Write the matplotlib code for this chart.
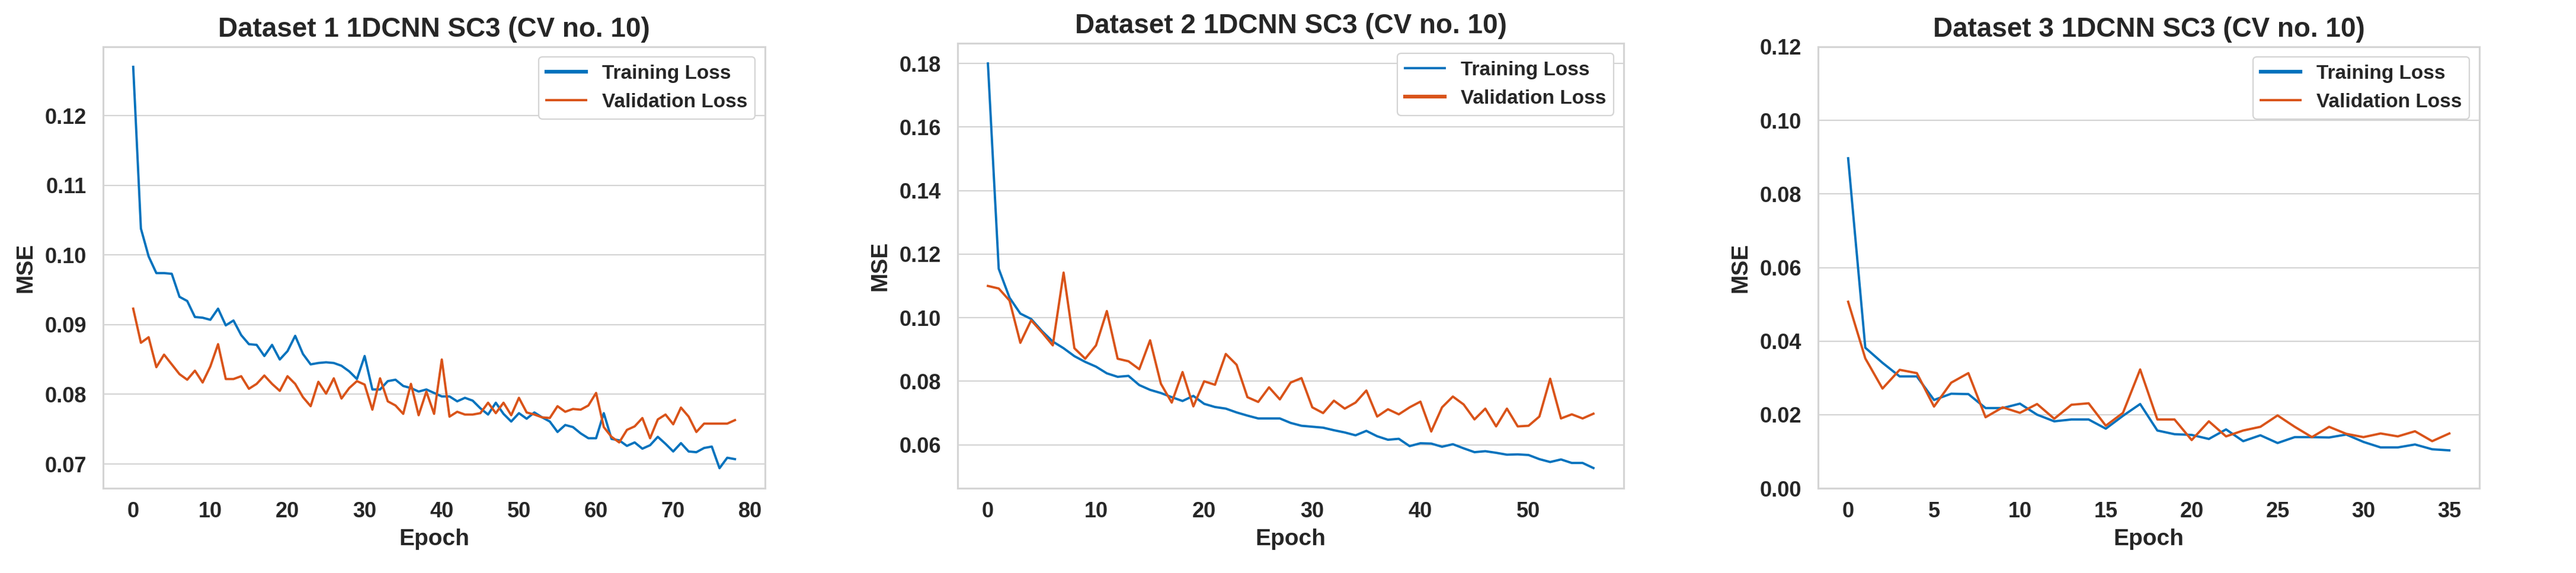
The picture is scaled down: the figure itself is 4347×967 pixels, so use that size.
import matplotlib
matplotlib.use("Agg")
import matplotlib.pyplot as plt
from matplotlib.ticker import MultipleLocator, FormatStrFormatter

plt.rcParams['font.family'] = ['Liberation Sans', 'DejaVu Sans']

# -------------------------------
# Colours
# -------------------------------
TRAIN_BLUE = '#0072BD'
VAL_ORANGE = '#D95319'
GRID_GREY = '#d4d4d4'
TEXT_DARK = '#262626'

# -------------------------------
# Data (MSE per epoch)
# -------------------------------
titles = [
    "Dataset 1 1DCNN SC3 (CV no. 10)",
    "Dataset 2 1DCNN SC3 (CV no. 10)",
    "Dataset 3 1DCNN SC3 (CV no. 10)",
]

d1_train = [
    0.1270, 0.1038, 0.0998, 0.0974, 0.0974, 0.0973, 0.0940, 0.0934, 0.0911, 0.0910,
    0.0907, 0.0923, 0.0899, 0.0906, 0.0885, 0.0872, 0.0871, 0.0855, 0.0871, 0.0850,
    0.0862, 0.0884, 0.0858, 0.0843, 0.0845, 0.0846, 0.0845, 0.0841, 0.0833, 0.0822,
    0.0855, 0.0807, 0.0807, 0.0819, 0.0821, 0.0812, 0.0809, 0.0804, 0.0807, 0.0802,
    0.0797, 0.0797, 0.0790, 0.0795, 0.0791, 0.0780, 0.0771, 0.0788, 0.0772, 0.0761,
    0.0773, 0.0765, 0.0774, 0.0767, 0.0761, 0.0746, 0.0756, 0.0753, 0.0744, 0.0737,
    0.0737, 0.0773, 0.0736, 0.0734, 0.0726, 0.0731, 0.0722, 0.0727, 0.0739, 0.0729,
    0.0718, 0.0730, 0.0718, 0.0717, 0.0723, 0.0725, 0.0694, 0.0709, 0.0707,
]
d1_val = [
    0.0923, 0.0874, 0.0882, 0.0839, 0.0857, 0.0843, 0.0829, 0.0821, 0.0834, 0.0817,
    0.0840, 0.0872, 0.0822, 0.0822, 0.0826, 0.0808, 0.0815, 0.0827, 0.0815, 0.0805,
    0.0826, 0.0815, 0.0796, 0.0783, 0.0818, 0.0801, 0.0823, 0.0794, 0.0809, 0.0819,
    0.0814, 0.0778, 0.0823, 0.0790, 0.0784, 0.0772, 0.0815, 0.0770, 0.0804, 0.0772,
    0.0850, 0.0768, 0.0775, 0.0771, 0.0771, 0.0773, 0.0788, 0.0773, 0.0788, 0.0770,
    0.0795, 0.0774, 0.0771, 0.0767, 0.0766, 0.0783, 0.0775, 0.0779, 0.0778, 0.0784,
    0.0802, 0.0753, 0.0739, 0.0731, 0.0749, 0.0754, 0.0766, 0.0737, 0.0764, 0.0771,
    0.0757, 0.0781, 0.0768, 0.0746, 0.0758, 0.0758, 0.0758, 0.0758, 0.0763,
]

d2_train = [
    0.1800, 0.1154, 0.1063, 0.1013, 0.0996, 0.0958, 0.0925, 0.0904, 0.0879, 0.0861,
    0.0846, 0.0825, 0.0814, 0.0817, 0.0788, 0.0773, 0.0763, 0.0750, 0.0738, 0.0754,
    0.0729, 0.0719, 0.0714, 0.0702, 0.0692, 0.0683, 0.0683, 0.0683, 0.0669, 0.0660,
    0.0657, 0.0654, 0.0646, 0.0639, 0.0630, 0.0644, 0.0627, 0.0616, 0.0619, 0.0596,
    0.0605, 0.0604, 0.0594, 0.0602, 0.0589, 0.0577, 0.0580, 0.0575, 0.0569, 0.0570,
    0.0568, 0.0555, 0.0546, 0.0554, 0.0543, 0.0543, 0.0527,
]
d2_val = [
    0.1100, 0.1092, 0.1054, 0.0921, 0.0992, 0.0954, 0.0913, 0.1142, 0.0904, 0.0871,
    0.0913, 0.1021, 0.0871, 0.0863, 0.0838, 0.0929, 0.0792, 0.0733, 0.0829, 0.0721,
    0.0800, 0.0789, 0.0886, 0.0852, 0.0750, 0.0735, 0.0781, 0.0743, 0.0796, 0.0810,
    0.0718, 0.0700, 0.0739, 0.0714, 0.0733, 0.0771, 0.0689, 0.0712, 0.0696, 0.0718,
    0.0736, 0.0642, 0.0718, 0.0752, 0.0727, 0.0680, 0.0714, 0.0658, 0.0714, 0.0658,
    0.0660, 0.0689, 0.0808, 0.0683, 0.0696, 0.0683, 0.0698,
]

d3_train = [
    0.0897, 0.0382, 0.0341, 0.0304, 0.0304, 0.0240, 0.0257, 0.0256, 0.0218, 0.0218,
    0.0230, 0.0200, 0.0182, 0.0187, 0.0187, 0.0162, 0.0197, 0.0229, 0.0157, 0.0147,
    0.0145, 0.0134, 0.0160, 0.0128, 0.0144, 0.0123, 0.0139, 0.0139, 0.0138, 0.0146,
    0.0126, 0.0111, 0.0111, 0.0119, 0.0106, 0.0103,
]
d3_val = [
    0.0507, 0.0353, 0.0271, 0.0322, 0.0313, 0.0222, 0.0287, 0.0313, 0.0193, 0.0220,
    0.0205, 0.0229, 0.0189, 0.0227, 0.0231, 0.0170, 0.0205, 0.0323, 0.0187, 0.0187,
    0.0131, 0.0182, 0.0141, 0.0157, 0.0167, 0.0198, 0.0167, 0.0139, 0.0167, 0.0148,
    0.0139, 0.0149, 0.0141, 0.0155, 0.0128, 0.0149,
]

train_series = [d1_train, d2_train, d3_train]
val_series = [d1_val, d2_val, d3_val]
x_steps = [10, 10, 5]

# -------------------------------
# Layout (pixel boxes of each axes in a 4347x967 canvas)
# -------------------------------
W, H = 4347, 967
boxes = [(174, 79, 1117, 745), (1616, 73, 1124, 751), (3068, 79, 1116, 745)]
# which legend handle is drawn thicker in each panel
thick_handle = [0, 1, 0]

fig = plt.figure(figsize=(W / 100, H / 100), dpi=100)

for i in range(3):
    left, top, w, h = boxes[i]
    ax = fig.add_axes([left / W, (H - top - h) / H, w / W, h / H])

    epochs = list(range(len(train_series[i])))
    ax.plot(epochs, train_series[i], color=TRAIN_BLUE, lw=2.8, label="Training Loss")
    ax.plot(epochs, val_series[i], color=VAL_ORANGE, lw=2.8, label="Validation Loss")

    if i == 2:
        ax.set_ylim(0, 0.12)
        ax.yaxis.set_major_locator(MultipleLocator(0.02))

    ax.xaxis.set_major_locator(MultipleLocator(x_steps[i]))
    ax.yaxis.set_major_formatter(FormatStrFormatter('%.2f'))

    ax.grid(axis='y', color=GRID_GREY, lw=1.6)
    ax.grid(axis='x', visible=False)
    ax.set_axisbelow(True)
    for sp in ax.spines.values():
        sp.set_color(GRID_GREY)
        sp.set_linewidth(2.2)

    ax.tick_params(length=0, labelsize=26, labelcolor=TEXT_DARK)
    ax.tick_params(axis='x', pad=16)
    ax.tick_params(axis='y', pad=20)
    for lbl in ax.get_xticklabels() + ax.get_yticklabels():
        lbl.set_fontweight('bold')

    ax.set_title(titles[i], fontsize=33, fontweight='bold', color=TEXT_DARK, pad=12)
    ax.set_xlabel("Epoch", fontsize=28, fontweight='bold', color=TEXT_DARK, labelpad=8)
    ax.set_ylabel("MSE", fontsize=28, fontweight='bold', color=TEXT_DARK, labelpad=10)

    leg = ax.legend(loc='upper right', prop={'size': 24, 'weight': 'bold'},
                    frameon=True, fancybox=True, edgecolor=GRID_GREY, framealpha=1.0)
    leg.get_frame().set_linewidth(1.6)
    for t in leg.get_texts():
        t.set_color(TEXT_DARK)
    for k, line in enumerate(leg.get_lines()):
        line.set_linewidth(4.5 if k == thick_handle[i] else 2.8)

fig.savefig("out.png", dpi=100, facecolor='white')
plt.close(fig)
